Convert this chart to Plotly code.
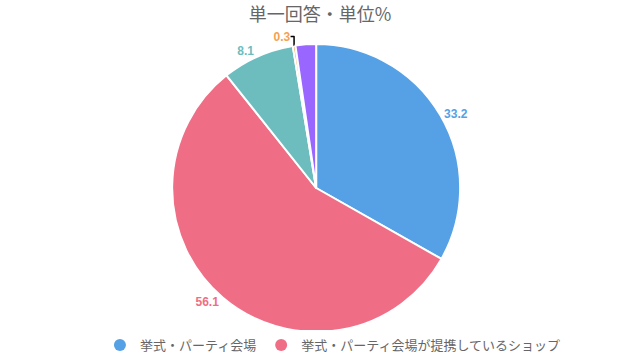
import plotly.graph_objects as go

values = [33.2, 56.1, 8.1, 0.3, 2.3]
slice_names = ["挙式・パーティ会場", "挙式・パーティ会場が提携しているショップ", "項目3", "項目4", "項目5"]
colors = ["#56a1e6", "#ef6e85", "#6dbdbf", "#f5a14f", "#9966ff"]
show_label = [True, True, True, True, False]
legend_count = 2

texts = [f"{v:.1f}" if s else "" for v, s in zip(values, show_label)]
positions = ["outside" if s else "none" for s in show_label]

fig = go.Figure()
fig.add_trace(go.Pie(
    labels=slice_names,
    values=values,
    text=texts,
    texttemplate="<b>%{text}</b>",
    textposition=positions,
    textfont=dict(color=colors, size=12, family="Liberation Sans, Arial, sans-serif"),
    marker=dict(colors=colors, line=dict(color="white", width=2)),
    sort=False,
    direction="clockwise",
    rotation=0,
    showlegend=False,
    hoverinfo="label+value",
    domain=dict(x=[0.02, 1], y=[0.0886, 1]),
))

for name, c in zip(slice_names[:legend_count], colors[:legend_count]):
    fig.add_trace(go.Scatter(x=[None], y=[None], mode="markers", name=name,
                             marker=dict(color=c, size=14, symbol="circle")))

fig.update_layout(
    width=640, height=360,
    margin=dict(l=0, r=0, t=44, b=0),
    paper_bgcolor="white", plot_bgcolor="white",
    title=dict(text="単一回答・単位%", x=0.5, xanchor="center", y=0.96, yanchor="middle",
               font=dict(size=18, color="#666666", family="Noto Sans CJK JP, sans-serif")),
    xaxis=dict(visible=False), yaxis=dict(visible=False),
    legend=dict(orientation="h", x=0.045, xanchor="left", y=0.0, yanchor="bottom",
                font=dict(size=13, color="#666666", family="Noto Sans CJK JP, sans-serif"),
                itemsizing="constant", itemwidth=30, tracegroupgap=0),
)

fig.write_html("out.html")
